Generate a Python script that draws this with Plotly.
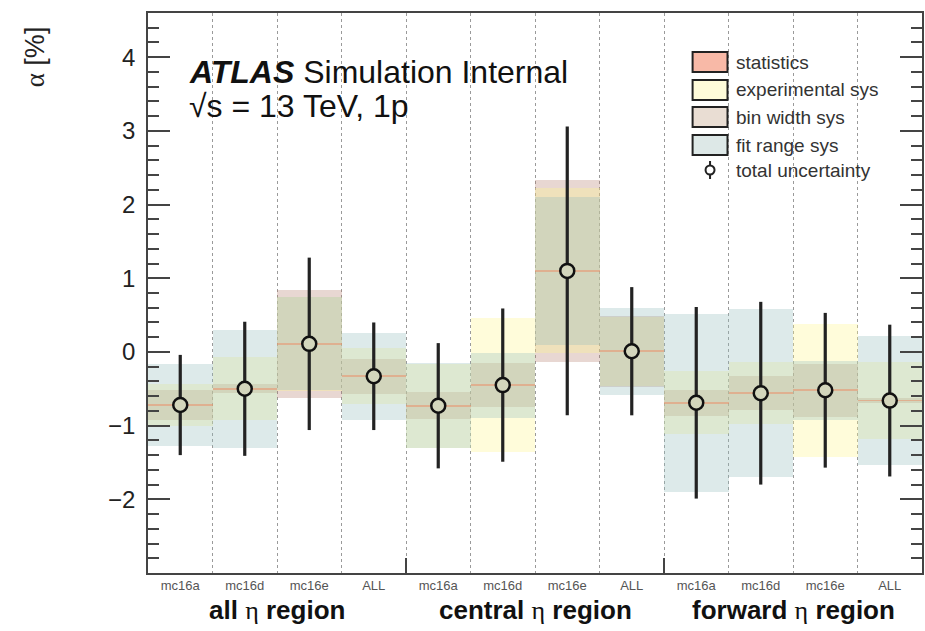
import plotly.graph_objects as go

# ---------------- data ----------------
samples = ["mc16a", "mc16d", "mc16e", "ALL"] * 3
regions = ["all", "central", "forward"]
alpha_val = [-0.72, -0.50, 0.11, -0.33, -0.73, -0.45, 1.10, 0.01, -0.69, -0.56, -0.52, -0.66]
total_unc = [0.68, 0.91, 1.17, 0.73, 0.85, 1.04, 1.96, 0.87, 1.30, 1.24, 1.05, 1.03]
stat_unc = [0.012, 0.012, 0.012, 0.012, 0.012, 0.012, 0.015, 0.012, 0.012, 0.012, 0.012, 0.012]
exp_sys = [0.28, 0.43, 0.64, 0.38, 0.57, 0.91, 1.12, 0.47, 0.43, 0.42, 0.90, 0.52]
binw_sys = [0.21, 0.06, 0.73, 0.24, 0.18, 0.30, 1.23, 0.48, 0.18, 0.23, 0.36, 0.03]
fitr_sys = [0.55, 0.80, 0.63, 0.59, 0.58, 0.44, 1.00, 0.59, 1.21, 1.14, 0.40, 0.88]
legend_labels = ["statistics", "experimental sys", "bin width sys", "fit range sys", "total uncertainty"]

# ---------------- style ----------------
FONT = "Liberation Sans, Arial, Helvetica, sans-serif"
SERIF = "Liberation Serif, DejaVu Serif, serif"
band_layers = [  # drawn in this order (bottom -> top)
    ("bin width sys", binw_sys, (178, 122, 105), 0.30),
    ("experimental sys", exp_sys, (255, 245, 140), 0.32),
    ("fit range sys", fitr_sys, (150, 190, 190), 0.32),
]
stat_layer = ("statistics", stat_unc, (240, 130, 90), 0.45)
legend_fill = {
    "statistics": "#f8b9a7",
    "experimental sys": "#fefbd9",
    "bin width sys": "#e9ddd3",
    "fit range sys": "#dde8e7",
}

n = len(alpha_val)
xs = list(range(1, n + 1))

fig = go.Figure()

comp = [255.0, 255.0, 255.0]
for name, vals, rgb, a in band_layers + [stat_layer]:
    fig.add_trace(go.Bar(
        x=xs,
        y=[2 * v for v in vals],
        base=[c - v for c, v in zip(alpha_val, vals)],
        width=1.0,
        marker=dict(color="rgba(%d,%d,%d,%.2f)" % (rgb + (a,)), line=dict(width=0)),
        name=name,
        showlegend=False,
        hoverinfo="skip",
    ))
    if name != "statistics":
        comp = [comp[i] * (1 - a) + rgb[i] * a for i in range(3)]
comp_col = "rgb(%d,%d,%d)" % tuple(int(round(c)) for c in comp)

# total uncertainty error bars
fig.add_trace(go.Scatter(
    x=xs, y=alpha_val, mode="markers",
    marker=dict(size=1, color="rgba(0,0,0,0)"),
    error_y=dict(type="data", array=total_unc, visible=True, color="#222222", thickness=3.2, width=0),
    showlegend=False, hoverinfo="skip",
))
# markers (hollow look)
fig.add_trace(go.Scatter(
    x=xs, y=alpha_val, mode="markers",
    marker=dict(symbol="circle", size=14, color=comp_col, line=dict(color="#111111", width=2.5)),
    showlegend=False, hoverinfo="skip",
))
# dummy trace for the secondary x axis (region boundary ticks)
fig.add_trace(go.Scatter(x=[None], y=[None], xaxis="x2", showlegend=False, hoverinfo="skip"))

boundaries = [i + 0.5 for i in range(1, n)]
region_edges = [4.5, 8.5]

fig.update_layout(
    width=925, height=631,
    margin=dict(l=148, r=1, t=13, b=58),
    paper_bgcolor="white", plot_bgcolor="white",
    barmode="overlay", bargap=0,
    font=dict(family=FONT, color="#222"),
    xaxis=dict(
        range=[0.5, n + 0.5], tickvals=xs, ticktext=samples,
        ticks="", showgrid=False, zeroline=False,
        showline=True, linecolor="#444", linewidth=1.5, mirror=True,
        tickfont=dict(size=13, color="#555", family=FONT),
        minor=dict(tickvals=boundaries, showgrid=True, gridcolor="#9a9a9a",
                   griddash="dot", gridwidth=1, ticks=""),
    ),
    xaxis2=dict(
        overlaying="x", anchor="y", side="bottom", range=[0.5, n + 0.5],
        tickvals=region_edges, ticks="inside", ticklen=15, tickcolor="#444", tickwidth=1.5,
        showticklabels=False, showgrid=False, zeroline=False, showline=False,
    ),
    yaxis=dict(
        range=[-3.0, 4.6], tickvals=[-2, -1, 0, 1, 2, 3, 4],
        ticktext=["\u22122", "\u22121", "0", "1", "2", "3", "4"],
        ticks="inside", ticklen=22, tickwidth=1.5, tickcolor="#444",
        minor=dict(dtick=0.2, ticks="inside", ticklen=11, tickwidth=1.5, tickcolor="#444", showgrid=False),
        showgrid=False, zeroline=False,
        showline=True, linecolor="#444", linewidth=1.5, mirror="ticks",
        tickfont=dict(size=24, color="#222", family=FONT),
        ticklabelstandoff=6,
    ),
)

# ---------- annotations ----------
def px(x):
    return (x - 148) / 776.0

def py(y):
    return (573 - y) / 560.0

ann = []
ann.append(dict(xref="paper", yref="paper", x=px(35), y=py(57), textangle=-90,
                text="<span style='font-family:%s'>α</span> [%%]" % SERIF,
                showarrow=False, font=dict(size=27, color="#222", family=FONT),
                xanchor="center", yanchor="middle"))
ann.append(dict(xref="paper", yref="paper", x=px(187), y=py(72),
                text="<b><i>ATLAS</i></b> Simulation Internal", showarrow=False,
                font=dict(size=32, color="#111", family=FONT), xanchor="left", yanchor="middle"))
ann.append(dict(xref="paper", yref="paper", x=px(187), y=py(106),
                text="\u221As = 13 TeV, 1p", showarrow=False,
                font=dict(size=32, color="#111", family=FONT), xanchor="left", yanchor="middle"))
for i, r in enumerate(regions):
    xc = 4 * i + 2.5
    ann.append(dict(xref="x", yref="paper", x=xc, y=py(610),
                    text="<b>%s</b> <span style='font-family:%s'>η</span> <b>region</b>" % (r, SERIF),
                    showarrow=False, font=dict(size=26, color="#111", family=FONT),
                    xanchor="center", yanchor="middle"))

# custom legend
rows = [62, 90, 117, 145, 170]
shapes = []
for lab, yc in zip(legend_labels, rows):
    ann.append(dict(xref="paper", yref="paper", x=px(736), y=py(yc), text=lab, showarrow=False,
                    font=dict(size=19, color="#333", family=FONT), xanchor="left", yanchor="middle"))
    if lab in legend_fill:
        shapes.append(dict(type="rect", xref="paper", yref="paper",
                           x0=px(694), x1=px(729), y0=py(yc + 10), y1=py(yc - 10),
                           fillcolor=legend_fill[lab], line=dict(color="#222", width=2)))
    else:
        shapes.append(dict(type="line", xref="paper", yref="paper",
                           x0=px(711.5), x1=px(711.5), y0=py(yc + 9), y1=py(yc - 9),
                           line=dict(color="#222", width=2)))
        shapes.append(dict(type="circle", xref="paper", yref="paper",
                           x0=px(707), x1=px(716), y0=py(yc + 4.5), y1=py(yc - 4.5),
                           fillcolor="white", line=dict(color="#222", width=2)))

fig.update_layout(annotations=ann, shapes=shapes)
fig.write_html("out.html")
